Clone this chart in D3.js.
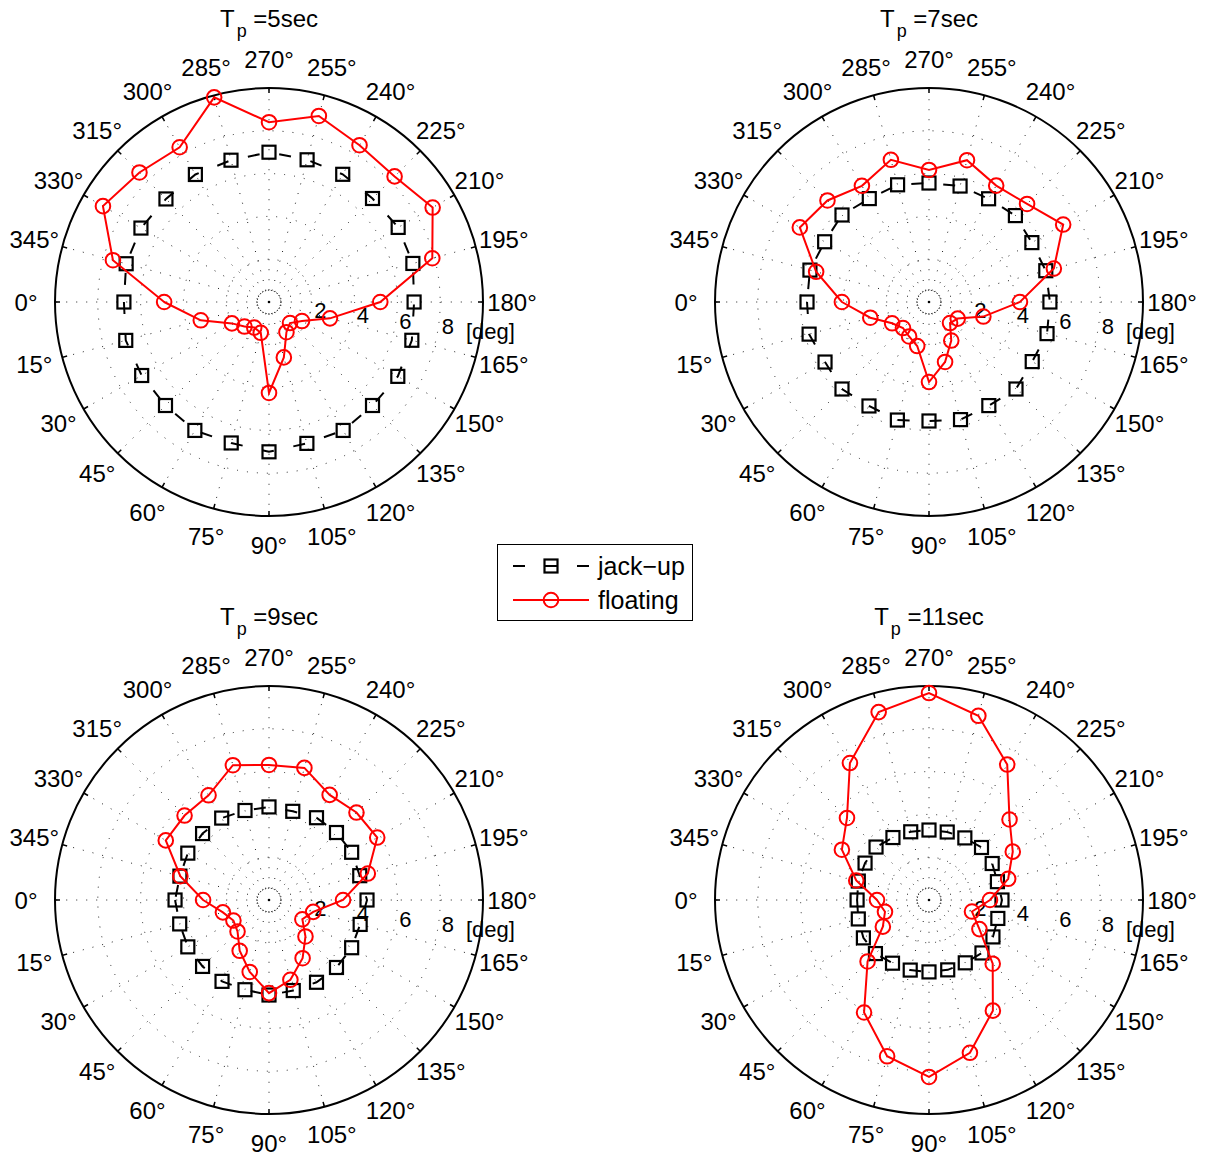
<!DOCTYPE html>
<html><head><meta charset="utf-8">
<script src="https://cdn.jsdelivr.net/npm/d3@7"></script>
<style>
body{margin:0;background:#fff}
text{font-family:"Liberation Sans",Arial,Helvetica,sans-serif;fill:#000}
</style>
</head><body>
<svg id="chart" width="1207" height="1159"></svg>
<script>
// ---- data ----
const angles = [0,15,30,45,60,75,90,105,120,135,150,165,180,195,210,225,240,255,270,285,300,315,330,345];
const periods = ["5sec","7sec","9sec","11sec"];
const radialTicks = [2,4,6,8];
const radialTickLabels = ["2","4","6","8","[deg]"];
const seriesNames = ["jack\u2212up","floating"];

const jack5  = [6.78,6.93,6.87,6.84,6.93,6.82,7.00,6.84,6.93,6.84,6.95,6.91,6.78,6.96,6.97,6.84,6.89,6.88,7.00,6.86,6.88,6.81,6.91,6.91];
const float5 = [4.90,3.30,2.00,1.62,1.38,1.49,4.25,2.68,1.63,1.39,1.78,2.95,5.20,7.90,8.83,8.30,8.46,9.00,8.40,9.90,8.35,8.56,8.96,7.55];
const jack7  = [5.70,5.80,5.61,5.75,5.61,5.71,5.56,5.69,5.59,5.75,5.57,5.71,5.65,5.65,5.55,5.71,5.57,5.61,5.56,5.67,5.58,5.75,5.63,5.76];
const float7 = [4.07,2.84,1.99,1.72,1.86,2.13,3.74,2.90,2.08,1.39,1.55,2.63,4.25,6.04,7.24,6.48,6.28,6.86,6.17,6.88,6.27,6.71,6.97,5.46];
const jack9  = [4.39,4.32,4.38,4.39,4.39,4.34,4.44,4.38,4.44,4.46,4.46,4.41,4.58,4.39,4.46,4.46,4.44,4.29,4.35,4.33,4.42,4.39,4.38,4.31];
const float9 = [3.08,2.23,1.92,2.08,2.74,3.48,4.35,3.86,3.14,2.41,1.80,2.14,3.46,4.78,5.84,5.78,5.67,6.39,6.31,6.52,5.65,5.58,5.57,4.29];
const jack11 = [3.36,3.42,3.54,3.54,3.41,3.39,3.36,3.38,3.39,3.50,3.45,3.33,3.41,3.31,3.41,3.47,3.35,3.29,3.27,3.30,3.37,3.50,3.45,3.42];
const float11= [2.43,2.13,2.49,4.06,6.07,7.56,8.27,7.39,5.97,4.21,2.72,2.08,2.85,3.83,4.52,5.32,7.31,8.91,9.67,9.09,7.39,5.42,4.70,3.52];

const jackSeries  = [jack5, jack7, jack9, jack11];
const floatSeries = [float5, float7, float9, float11];

// ---- layout ----
const svg = d3.select("#chart");
const centers = [[269,302],[929,302],[269,900],[929,900]];
const R = 214;
const r = d3.scaleLinear().domain([0,10]).range([0,R]);
// 0 deg at left, 90 deg at bottom (d3 radial angle convention)
const a = d3.scaleLinear().domain([0,360]).range([-Math.PI/2, -5*Math.PI/2]);

const lineGen = d3.lineRadial()
  .angle(d => a(d[0])).radius(d => r(d[1]))
  .curve(d3.curveLinearClosed);

centers.forEach((c, i) => {
  const g = svg.append("g").attr("transform", `translate(${c[0]},${c[1]})`);

  // dotted spokes
  angles.forEach(t => {
    const p0 = d3.pointRadial(a(t), r(0.55));
    const p1 = d3.pointRadial(a(t), R);
    g.append("line").attr("x1",p0[0]).attr("y1",p0[1]).attr("x2",p1[0]).attr("y2",p1[1])
      .attr("stroke","#222").attr("stroke-width",1).attr("stroke-dasharray","1,9");
  });
  // dotted rings
  g.append("circle").attr("r", r(0.55)).attr("fill","none").attr("stroke","#000")
    .attr("stroke-width",1).attr("stroke-dasharray","1,2");
  radialTicks.forEach(v => {
    g.append("circle").attr("r", r(v)).attr("fill","none").attr("stroke","#222")
      .attr("stroke-width",1).attr("stroke-dasharray","1,9");
  });
  g.append("circle").attr("r",1.3).attr("fill","#000");
  // outer circle
  g.append("circle").attr("r", R).attr("fill","none").attr("stroke","#000").attr("stroke-width",2);
  // ticks
  angles.forEach(t => {
    const p0 = d3.pointRadial(a(t), R-5);
    const p1 = d3.pointRadial(a(t), R);
    g.append("line").attr("x1",p0[0]).attr("y1",p0[1]).attr("x2",p1[0]).attr("y2",p1[1])
      .attr("stroke","#000").attr("stroke-width",1.5);
  });
  // angle labels
  angles.forEach(t => {
    const p = d3.pointRadial(a(t), 243);
    g.append("text").attr("x",p[0]).attr("y",p[1]).attr("text-anchor","middle")
      .attr("dominant-baseline","central").attr("font-size",24).text(t + "\u00B0");
  });
  // radial labels
  radialTickLabels.forEach((lab, k) => {
    const v = (k+1)*2;
    const p = d3.pointRadial(a(173), r(v));
    g.append("text").attr("x", p[0]+9).attr("y", p[1]+3.5).attr("text-anchor","middle")
      .attr("dominant-baseline","central").attr("font-size",22).text(lab);
  });
  // title
  const tt = g.append("text").attr("x",0).attr("y",-R-61).attr("text-anchor","middle").attr("font-size",24);
  tt.append("tspan").text("T");
  tt.append("tspan").attr("font-size",18).attr("dy",10).attr("dx",2).text("p");
  tt.append("tspan").attr("dy",-10).text("\u00A0=" + periods[i]);

  // jack-up
  const jd = angles.map((t,k) => [t, jackSeries[i][k]]);
  g.append("path").attr("d", lineGen(jd)).attr("fill","none").attr("stroke","#000")
    .attr("stroke-width",2).attr("stroke-dasharray","12,20");
  jd.forEach(d => {
    const p = d3.pointRadial(a(d[0]), r(d[1]));
    g.append("rect").attr("x",p[0]-6.5).attr("y",p[1]-6.5).attr("width",13).attr("height",13)
      .attr("fill","none").attr("stroke","#000").attr("stroke-width",2.2);
  });
  // floating
  const fd = angles.map((t,k) => [t, floatSeries[i][k]]);
  g.append("path").attr("d", lineGen(fd)).attr("fill","none").attr("stroke","#ff0000")
    .attr("stroke-width",2);
  fd.forEach(d => {
    const p = d3.pointRadial(a(d[0]), r(d[1]));
    g.append("circle").attr("cx",p[0]).attr("cy",p[1]).attr("r",7.3)
      .attr("fill","none").attr("stroke","#ff0000").attr("stroke-width",2);
  });
});

// ---- legend ----
const lg = svg.append("g");
lg.append("rect").attr("x",497.5).attr("y",544.5).attr("width",195).attr("height",76)
  .attr("fill","#fff").attr("stroke","#000").attr("stroke-width",1);
const ly = [566, 600];
lg.append("line").attr("x1",513).attr("x2",589).attr("y1",ly[0]).attr("y2",ly[0])
  .attr("stroke","#000").attr("stroke-width",2).attr("stroke-dasharray","12,20");
lg.append("rect").attr("x",544.5).attr("y",ly[0]-6.5).attr("width",13).attr("height",13)
  .attr("fill","none").attr("stroke","#000").attr("stroke-width",2.2);
lg.append("line").attr("x1",513).attr("x2",589).attr("y1",ly[1]).attr("y2",ly[1])
  .attr("stroke","#ff0000").attr("stroke-width",2);
lg.append("circle").attr("cx",551).attr("cy",ly[1]).attr("r",7.3)
  .attr("fill","none").attr("stroke","#ff0000").attr("stroke-width",2);
seriesNames.forEach((n,k) => {
  lg.append("text").attr("x",598).attr("y",ly[k]).attr("dominant-baseline","central")
    .attr("font-size",25).text(n);
});
</script>
</body></html>
